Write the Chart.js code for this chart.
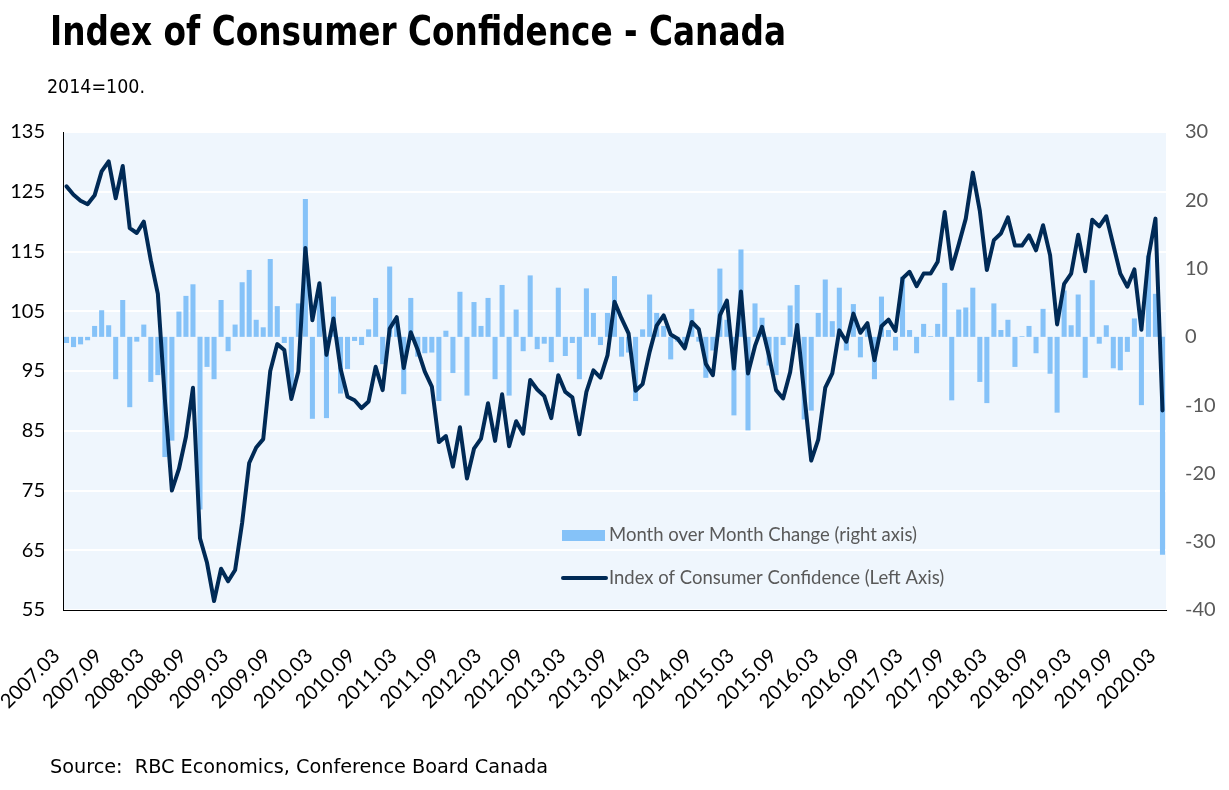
<!DOCTYPE html>
<html>
<head>
<meta charset="utf-8">
<script src="https://cdn.jsdelivr.net/npm/chart.js@4.4.0/dist/chart.umd.min.js"></script>
<style>
  html, body { margin: 0; padding: 0; background: #fff; }
  #wrap { position: relative; width: 1229px; height: 790px; overflow: hidden; }
  #myChart { position: absolute; left: 0; top: 0; }
  .txt { position: absolute; white-space: nowrap; transform-origin: 0 0; color: #000;
         font-family: "DejaVu Sans Condensed", "DejaVu Sans", sans-serif; }
  #title { left: 50px; top: 11px; font-size: 41px; line-height: 41px; font-weight: bold; }
  #sub { left: 47px; top: 77px; font-size: 19px; line-height: 19px; }
  #source { left: 50px; top: 756px; font-size: 20px; line-height: 20px; }
</style>
</head>
<body>
<div id="wrap">
  <canvas id="myChart" width="1229" height="790"></canvas>
  <div class="txt" id="title" data-w="736">Index of Consumer Confidence - Canada</div>
  <div class="txt" id="sub" data-w="98">2014=100.</div>
  <div class="txt" id="source" data-w="498">Source:&nbsp; RBC Economics, Conference Board Canada</div>
</div>
<script>
// monthly, 2007.03 - 2020.03
const months = [
  "2007.03","2007.04","2007.05","2007.06","2007.07","2007.08","2007.09","2007.10","2007.11","2007.12",
  "2008.01","2008.02","2008.03","2008.04","2008.05","2008.06","2008.07","2008.08","2008.09","2008.10","2008.11","2008.12",
  "2009.01","2009.02","2009.03","2009.04","2009.05","2009.06","2009.07","2009.08","2009.09","2009.10","2009.11","2009.12",
  "2010.01","2010.02","2010.03","2010.04","2010.05","2010.06","2010.07","2010.08","2010.09","2010.10","2010.11","2010.12",
  "2011.01","2011.02","2011.03","2011.04","2011.05","2011.06","2011.07","2011.08","2011.09","2011.10","2011.11","2011.12",
  "2012.01","2012.02","2012.03","2012.04","2012.05","2012.06","2012.07","2012.08","2012.09","2012.10","2012.11","2012.12",
  "2013.01","2013.02","2013.03","2013.04","2013.05","2013.06","2013.07","2013.08","2013.09","2013.10","2013.11","2013.12",
  "2014.01","2014.02","2014.03","2014.04","2014.05","2014.06","2014.07","2014.08","2014.09","2014.10","2014.11","2014.12",
  "2015.01","2015.02","2015.03","2015.04","2015.05","2015.06","2015.07","2015.08","2015.09","2015.10","2015.11","2015.12",
  "2016.01","2016.02","2016.03","2016.04","2016.05","2016.06","2016.07","2016.08","2016.09","2016.10","2016.11","2016.12",
  "2017.01","2017.02","2017.03","2017.04","2017.05","2017.06","2017.07","2017.08","2017.09","2017.10","2017.11","2017.12",
  "2018.01","2018.02","2018.03","2018.04","2018.05","2018.06","2018.07","2018.08","2018.09","2018.10","2018.11","2018.12",
  "2019.01","2019.02","2019.03","2019.04","2019.05","2019.06","2019.07","2019.08","2019.09","2019.10","2019.11","2019.12",
  "2020.01","2020.02","2020.03"
];

// Index of Consumer Confidence (left axis)
const confidenceIndex = [
  125.9, 124.5, 123.5, 122.9, 124.4, 128.4, 130.1, 123.9, 129.3, 118.9,
  118.1, 120.0, 113.5, 107.9, 90.3, 75.0, 78.6, 84.0, 92.2, 67.0, 62.9, 56.5,
  61.9, 59.8, 61.7, 69.6, 79.6, 82.2, 83.6, 95.0, 99.5, 98.5, 90.3, 94.9,
  115.6, 103.5, 109.7, 97.7, 103.8, 95.4, 90.7, 90.1, 88.8, 89.9, 95.7, 91.8,
  102.1, 104.0, 95.5, 101.5, 98.5, 94.9, 92.4, 83.1, 84.1, 79.0, 85.6, 77.0,
  82.0, 83.7, 89.6, 83.3, 91.1, 82.4, 86.6, 84.5, 93.5, 91.9, 90.8, 87.1,
  94.3, 91.5, 90.6, 84.4, 91.5, 95.1, 93.9, 97.6, 106.6, 103.8, 101.3, 91.7,
  92.8, 98.2, 102.6, 104.3, 101.1, 100.4, 98.8, 103.2, 102.0, 96.2, 94.3, 104.3,
  106.8, 95.4, 108.3, 94.6, 99.2, 102.4, 97.5, 91.8, 90.4, 94.8, 102.7, 91.2,
  80.0, 83.5, 92.2, 94.6, 101.8, 99.9, 104.6, 101.4, 103.0, 96.8, 102.5, 103.6,
  101.7, 110.5, 111.6, 109.2, 111.3, 111.3, 113.3, 121.6, 112.1, 116.2, 120.5, 128.2,
  121.8, 111.9, 116.9, 118.0, 120.7, 116.0, 116.0, 117.7, 115.2, 119.4, 114.4, 102.8,
  109.6, 111.3, 117.8, 111.7, 120.3, 119.2, 120.9, 116.1, 111.3, 109.1, 112.0, 101.9,
  114.1, 120.5, 88.4
];

// Month over month change (right axis)
const monthlyChange = [
  -0.9, -1.5, -1.1, -0.5, 1.6, 3.9, 1.7, -6.2, 5.4, -10.3,
  -0.7, 1.8, -6.6, -5.6, -17.6, -15.2, 3.7, 6.0, 7.7, -25.3, -4.4, -6.2,
  5.4, -2.1, 1.8, 8.0, 9.8, 2.5, 1.4, 11.4, 4.5, -0.9, -8.2, 4.9,
  20.2, -12.0, 6.2, -11.9, 5.9, -8.3, -4.7, -0.6, -1.2, 1.1, 5.7, -4.0,
  10.3, 1.9, -8.4, 5.7, -2.9, -2.4, -2.3, -9.4, 0.9, -5.3, 6.6, -8.6,
  5.1, 1.6, 5.7, -6.2, 7.6, -8.6, 4.0, -2.1, 9.0, -1.8, -1.0, -3.7,
  7.2, -2.8, -0.9, -6.2, 7.1, 3.5, -1.2, 3.5, 8.9, -2.9, -2.3, -9.4,
  1.1, 6.2, 3.5, 1.6, -3.3, -0.7, -1.6, 4.1, -0.7, -6.0, -2.0, 10.0,
  2.5, -11.5, 12.8, -13.7, 4.9, 2.8, -4.2, -5.6, -1.2, 4.6, 7.6, -12.1,
  -10.8, 3.5, 8.4, 2.3, 7.2, -2.0, 4.8, -3.0, 1.6, -6.2, 5.9, 1.0,
  -2.0, 8.8, 1.0, -2.4, 1.9, 0.1, 1.9, 7.9, -9.3, 4.0, 4.3, 7.2,
  -6.6, -9.7, 4.9, 1.0, 2.5, -4.4, 0.1, 1.6, -2.4, 4.1, -5.4, -11.1,
  6.8, 1.7, 6.2, -6.0, 8.3, -1.0, 1.7, -4.6, -4.9, -2.2, 2.7, -10.0,
  11.9, 6.3, -31.9
];

const leftTicks = [55, 65, 75, 85, 95, 105, 115, 125, 135];
const rightTicks = [-40, -30, -20, -10, 0, 10, 20, 30];

const navy = "#002a56";
const lightBlue = "#85c2f8";
const plotBg = "#eff6fd";
const grey = "#595959";

Chart.defaults.font.family = "Lato, 'Open Sans', sans-serif";

// light blue plot area
const plotBackground = {
  id: "plotBackground",
  beforeDraw(chart) {
    const a = chart.chartArea, ctx = chart.ctx;
    ctx.save();
    ctx.fillStyle = plotBg;
    ctx.fillRect(a.left, a.top, a.right - a.left, a.bottom - a.top);
    ctx.restore();
  }
};

// legend drawn inside the plot, bottom middle
const insideLegend = {
  id: "insideLegend",
  afterDraw(chart) {
    const ctx = chart.ctx;
    const x = 562, rows = [535, 578];
    ctx.save();
    ctx.font = "18.5px Lato, 'Open Sans', sans-serif";
    ctx.textBaseline = "middle";
    chart.data.datasets.forEach((ds, i) => {
      const y = rows[i];
      if (ds.type === "bar") {
        ctx.fillStyle = ds.backgroundColor;
        ctx.fillRect(x, y - 5, 43, 11);
      } else {
        ctx.strokeStyle = ds.borderColor;
        ctx.lineWidth = 4;
        ctx.lineCap = "round";
        ctx.beginPath();
        ctx.moveTo(x + 1, y);
        ctx.lineTo(x + 44, y);
        ctx.stroke();
      }
      ctx.fillStyle = grey;
      ctx.fillText(ds.label, x + 47, y);
    });
    ctx.restore();
  }
};

const config = {
  data: {
    labels: months,
    datasets: [{
      type: "bar",
      label: "Month over Month Change (right axis)",
      data: monthlyChange,
      backgroundColor: lightBlue,
      borderWidth: 0,
      barPercentage: 0.72,
      categoryPercentage: 1,
      yAxisID: "yR",
      order: 2
    }, {
      type: "line",
      label: "Index of Consumer Confidence (Left Axis)",
      data: confidenceIndex,
      borderColor: navy,
      borderWidth: 4,
      borderJoinStyle: "round",
      borderCapStyle: "round",
      pointRadius: 0,
      tension: 0,
      yAxisID: "yL",
      order: 1
    }]
  },
  options: {
    responsive: false,
    animation: false,
    devicePixelRatio: 1,
    layout: { padding: { left: 0, right: 0, top: 132, bottom: 80 } },
    plugins: {
      legend: { display: false },
      tooltip: { enabled: false }
    },
    scales: {
      x: {
        type: "category",
        offset: true,
        grid: { display: false },
        border: { color: "#000", width: 1 },
        ticks: {
          autoSkip: false,
          minRotation: 45,
          maxRotation: 45,
          color: "#000",
          font: { size: 20 },
          padding: 26,
          labelOffset: -10,
          callback: function (v, i) { return i % 6 === 0 ? this.getLabelForValue(v) : ""; }
        },
        afterFit: s => { s.height = 100; s.paddingLeft = 0; s.paddingRight = 0; }
      },
      yL: {
        position: "left",
        min: leftTicks[0],
        max: leftTicks[leftTicks.length - 1],
        afterBuildTicks: s => { s.ticks = leftTicks.map(v => ({ value: v })); },
        grid: { color: "#ffffff", lineWidth: 2, drawTicks: false },
        border: { color: "#000", width: 1 },
        ticks: { color: "#000", font: { size: 20 }, padding: 18 },
        afterFit: s => { s.width = 63; }
      },
      yR: {
        position: "right",
        min: rightTicks[0],
        max: rightTicks[rightTicks.length - 1],
        afterBuildTicks: s => { s.ticks = rightTicks.map(v => ({ value: v })); },
        grid: { display: false, drawTicks: false },
        border: { display: false },
        ticks: { color: grey, font: { size: 20 }, padding: 19 },
        afterFit: s => { s.width = 63; }
      }
    }
  },
  plugins: [plotBackground, insideLegend]
};

var myChart = new Chart(document.getElementById("myChart"), config);

// squeeze the heading texts to the widths they have in the original
function fitTexts() {
  document.querySelectorAll("[data-w]").forEach(el => {
    el.style.transform = "none";
    const w = el.getBoundingClientRect().width;
    el.style.transform = "scaleX(" + (el.dataset.w / w) + ")";
  });
}
fitTexts();
if (document.fonts) document.fonts.ready.then(fitTexts);
</script>
</body>
</html>
